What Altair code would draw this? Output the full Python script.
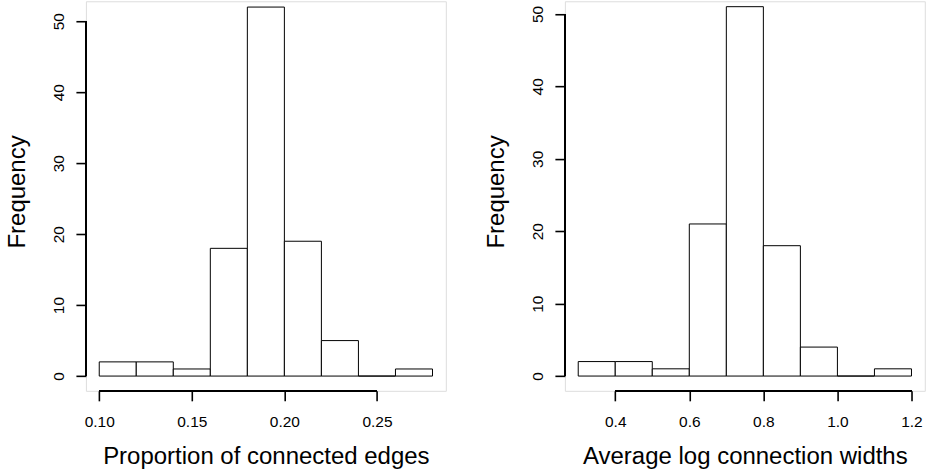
import altair as alt
import pandas as pd

# ---- data ----
left_breaks = [0.10, 0.12, 0.14, 0.16, 0.18, 0.20, 0.22, 0.24, 0.26, 0.28]
left_counts = [2, 2, 1, 18, 52, 19, 5, 0, 1]
left_xticks = [0.10, 0.15, 0.20, 0.25]

right_breaks = [0.3, 0.4, 0.5, 0.6, 0.7, 0.8, 0.9, 1.0, 1.1, 1.2]
right_counts = [2, 2, 1, 21, 51, 18, 4, 0, 1]
right_xticks = [0.4, 0.6, 0.8, 1.0, 1.2]

y_ticks = [0, 10, 20, 30, 40, 50]

FONT = "Liberation Sans"
W = 360.3
H = 390


def panel(breaks, counts, xticks, xfmt, xdom, ydom, xtitle):
    df = pd.DataFrame({"start": breaks[:-1], "end": breaks[1:], "count": counts})
    xs = alt.Scale(domain=xdom, nice=False, zero=False)
    ys = alt.Scale(domain=ydom, nice=False, zero=False)
    bars = alt.Chart(df).mark_rect(fill="white", stroke="black", strokeWidth=1).encode(
        x=alt.X("start:Q", scale=xs, axis=alt.Axis(
            values=xticks, format=xfmt, domain=False, grid=False,
            tickSize=10, tickWidth=1.6, tickColor="black",
            labelFont=FONT, labelFontSize=15.5, labelColor="black",
            labelBaseline="alphabetic", labelPadding=26, labelFlush=False,
            labelOverlap=False,
            title=xtitle, titleFont=FONT, titleFontSize=24, titleFontWeight="normal",
            titleColor="black", titleBaseline="alphabetic", titleY=72.7)),
        x2="end:Q",
        y=alt.Y("count:Q", scale=ys, axis=alt.Axis(
            values=y_ticks, format="d", domain=False, grid=False,
            tickSize=10, tickWidth=1.6, tickColor="black",
            labelFont=FONT, labelFontSize=15.5, labelColor="black",
            labelAngle=-90, labelAlign="center", labelBaseline="alphabetic",
            labelPadding=12, labelFlush=False, labelOverlap=False,
            title="Frequency", titleFont=FONT, titleFontSize=24, titleFontWeight="normal",
            titleColor="black", titleAngle=-90, titleAlign="center",
            titleBaseline="alphabetic", titleX=-61.5, titleY=190.4)),
        y2=alt.datum(0),
    )
    xaxis_line = alt.Chart(df).mark_rule(color="black", strokeWidth=1.6).encode(
        x=alt.datum(xticks[0], scale=xs), x2=alt.datum(xticks[-1]),
        y=alt.datum(ydom[0]),
    )
    yaxis_line = alt.Chart(df).mark_rule(color="black", strokeWidth=1.6).encode(
        x=alt.datum(xdom[0]),
        y=alt.datum(y_ticks[0]), y2=alt.datum(y_ticks[-1]),
    )
    return alt.layer(bars, xaxis_line, yaxis_line).properties(width=W, height=H)


left = panel(left_breaks, left_counts, left_xticks, ".2f",
             [0.0928, 0.2872], [-2.08, 52.82], "Proportion of connected edges")
right = panel(right_breaks, right_counts, right_xticks, ".1f",
              [0.264, 1.236], [-2.04, 51.75], "Average log connection widths")

chart = alt.hconcat(left, right, spacing=118.5, bounds="flush").resolve_scale(
    x="independent", y="independent"
).properties(
    padding={"left": 5, "top": 0, "right": 0, "bottom": 0}
).configure_view(stroke=None).configure(background="white")

chart.save("out.html", embed_options={"renderer": "svg", "actions": False})
